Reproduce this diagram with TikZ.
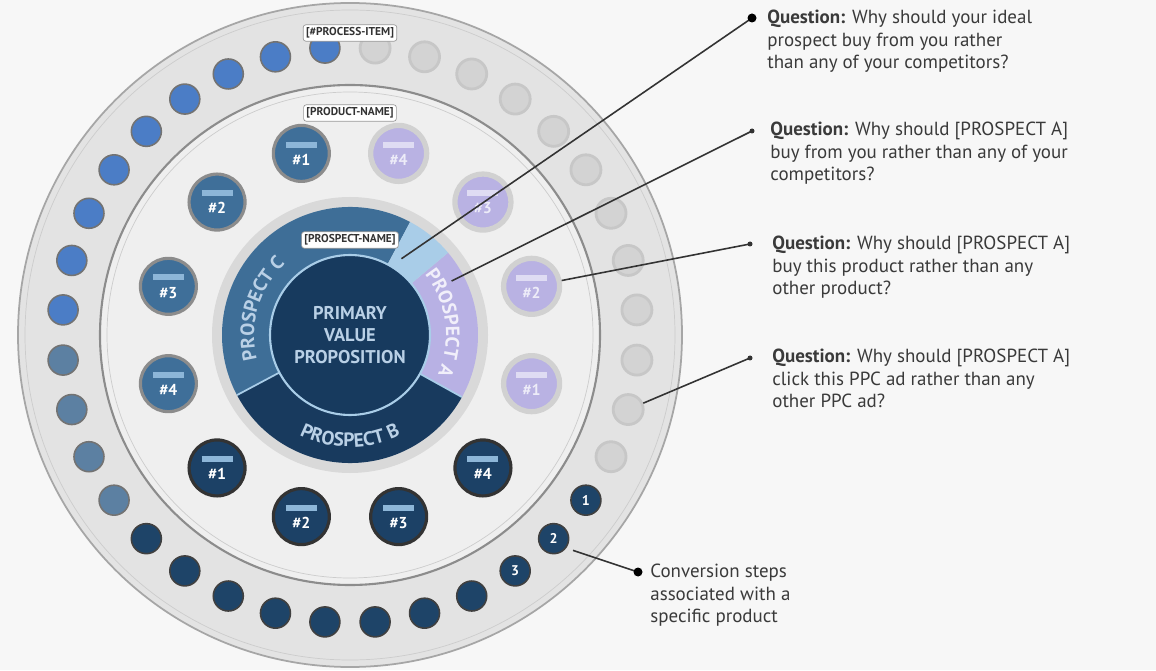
\documentclass[tikz,border=0pt]{standalone}
\usepackage{fontspec}
\setmainfont{PT Sans}
\usepackage{tikz}
\usetikzlibrary{calc,positioning,decorations.text}
\definecolor{bgcol}{HTML}{F7F7F7}
\definecolor{ringout}{HTML}{E3E3E3}
\definecolor{ringmid}{HTML}{EFEFEF}
\definecolor{ringin}{HTML}{D9D9D9}
\definecolor{segC}{HTML}{3E6E97}
\definecolor{segB}{HTML}{183A5E}
\definecolor{segA}{HTML}{B8B1E4}
\definecolor{segL}{HTML}{A9CDE8}
\definecolor{pvpcol}{HTML}{173A5E}
\definecolor{pvptext}{HTML}{B9D0E6}
\definecolor{dotblue}{HTML}{4B7DC6}
\definecolor{dotsteel}{HTML}{5C80A2}
\definecolor{dotnavy}{HTML}{1E4468}
\definecolor{dotgray}{HTML}{D3D3D3}
\definecolor{pblue}{HTML}{3F6F99}
\definecolor{pnavy}{HTML}{1C4166}
\definecolor{ppurp}{HTML}{B9B2E3}
\definecolor{stripb}{HTML}{8DB6D8}
\definecolor{txtgray}{HTML}{3A3A3A}

\begin{document}
\begin{tikzpicture}[x=0.02cm,y=0.02cm,
    odot/.style={circle,inner sep=0pt,minimum size=0.6cm,draw=black!55,line width=0.9pt},
    pdisk/.style={circle,inner sep=0pt,minimum size=1.12cm,line width=1.8pt,align=center,text=white,font=\fontsize{9}{9}\selectfont\bfseries},
    tagbox/.style={fill=white,draw=black!40,rounded corners=1.5pt,inner sep=1.6pt,text=black!80,font=\fontsize{6.5}{7}\selectfont\bfseries},
    qtext/.style={anchor=north west,align=left,inner sep=0pt,text=txtgray,font=\fontsize{10.8}{12.8}\selectfont},
    pin/.style={draw=black!80,line width=0.9pt}]
\path[use as bounding box,fill=bgcol] (0,0) rectangle (1156,670);

\begin{scope}[shift={(350,335)}]
	% bands
	\fill[ringout] (0,0) circle (332);
	\draw[black!35,line width=1pt] (0,0) circle (332);
	\draw[black!20] (0,0) circle (325);
	\fill[ringmid] (0,0) circle (250);
	\draw[black!45,line width=1.2pt] (0,0) circle (250);
	\draw[black!20] (0,0) circle (243);
	\fill[ringin] (0,0) circle (138);
	% outer dots
	\foreach \a in {95,105,...,175}
	\node[odot,fill=dotblue] (o\a) at (\a:288) {};
	\foreach \a in {185,195,205,215}
	\node[odot,fill=dotsteel] (o\a) at (\a:288) {};
	\foreach \a in {225,235,...,325}
	\node[odot,fill=dotnavy,draw=black!75] (o\a) at (\a:288) {};
	\foreach \a in {5,15,...,85}
	\node[odot,fill=dotgray,draw=black!22,line width=1.6pt] (o\a) at (\a:288) {};
	\foreach \a in {335,345,355}
	\node[odot,fill=dotgray,draw=black!22,line width=1.6pt] (o\a) at (\a:288) {};
	\foreach \a/\n in {325/1,315/2,305/3}
	\node[text=white,font=\fontsize{8}{8}\selectfont\bfseries] (s\n) at (o\a) {\n};
	% inner ring
	\fill[segC] (0,0) -- (62:128) arc (62:208:128) -- cycle;
	\fill[segB] (0,0) -- (208:128) arc (208:331:128) -- cycle;
	\fill[segA] (0,0) -- (331:128) arc (331:400:128) -- cycle;
	\fill[segL] (0,0) -- (40:128) arc (40:62:128) -- cycle;
	\foreach \a in {208,331}
	\draw[segL,line width=1pt] (\a:80) -- (\a:128);
	\node[circle,fill=pvpcol,draw=segL,line width=1.2pt,minimum size=3.2cm,align=center,text=pvptext,
	  font=\fontsize{10.5}{12.5}\selectfont\bfseries] (pvp) at (0,0) {PRIMARY\\VALUE\\PROPOSITION};
	\path[decorate,decoration={text along path,text align=center,text color=pvptext,
	  text={|\fontsize{11}{11}\selectfont\bfseries|PROSPECT C}}] (215:96) arc (215:112:96);
	\path[decorate,decoration={text along path,text align=center,text color=pvptext,
	  text={|\fontsize{11}{11}\selectfont\bfseries|PROSPECT B}}] (225:112) arc (225:315:112);
	\path[decorate,decoration={text along path,text align=center,text color=white!80!segA,
	  text={|\fontsize{11}{11}\selectfont\bfseries|PROSPECT A}}] (48:96) arc (48:-33:96);
	% product circles
	\foreach \a/\n in {105/1,135/2,165/3,195/4}
	\node[pdisk,fill=pblue,draw=black!45] (b\n) at (\a:188) {{\color{stripb}\rule{0.62cm}{0.12cm}}\\[1pt]\#\n};
	\foreach \a/\n in {225/1,255/2,285/3,315/4}
	\node[pdisk,fill=pnavy,draw=black!80] (n\n) at (\a:188) {{\color{stripb}\rule{0.62cm}{0.12cm}}\\[1pt]\#\n};
	\foreach \a/\n in {345/1,15/2,45/3,75/4}
	\node[pdisk,fill=ppurp,draw=black!18,line width=3pt,text=white!75!ppurp] (p\n) at (\a:188) {{\color{white!55!ppurp}\rule{0.62cm}{0.12cm}}\\[1pt]\#\n};
	% tags
	\node[tagbox] (tagstep) at (90:302) {[\#PROCESS-ITEM]};
	\node[tagbox] (tagprod) at (90:222) {[PRODUCT-NAME]};
	\node[tagbox] (tagpros) at (90:95) {[PROSPECT-NAME]};
	% line ends
	\coordinate (t1) at (56:92);
	\coordinate (t2) at (28:115);
	\coordinate (t5) at (-44:310);
\end{scope}

% callouts
\coordinate (d1) at (752,652);
\coordinate (d2) at (752,539);
\coordinate (d3) at (750,426);
\coordinate (d4) at (750,312);
\coordinate (d5) at (638,98);
\node[qtext] (q1) at (767,660) {\textbf{Question:} Why should your ideal\\prospect buy from you rather\\than any of your competitors?};
\node[qtext] (q2) at (770,548) {\textbf{Question:} Why should [PROSPECT A]\\buy from you rather than any of your\\competitors?};
\node[qtext] (q3) at (772,434) {\textbf{Question:} Why should [PROSPECT A]\\buy this product rather than any\\other product?};
\node[qtext] (q4) at (772,321) {\textbf{Question:} Why should [PROSPECT A]\\click this PPC ad rather than any\\other PPC ad?};
\node[qtext] (q5) at (650,106) {Conversion steps\\associated with a\\specific product};
\draw[pin] (d1) -- (t1);
\draw[pin] (d2) -- (t2);
\draw[pin] (d3) -- (p2);
\draw[pin] (d4) -- (o345);
\draw[pin] (d5) -- (t5);
\foreach \d in {d1,d5}
\fill[black] (\d) circle (4.5);
\foreach \d in {d2,d3,d4}
\fill[black!80] (\d) circle (2.5);
\end{tikzpicture}
\end{document}
